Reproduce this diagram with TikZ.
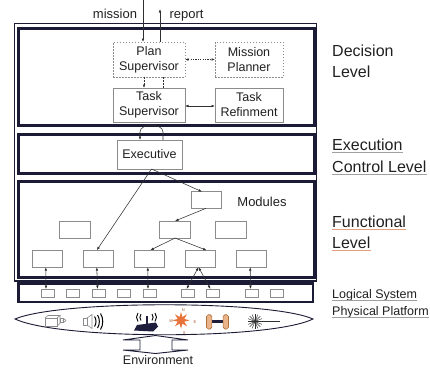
\documentclass[tikz,border=0pt]{standalone}
\usepackage{fontspec}
\setmainfont{Liberation Sans}
\usetikzlibrary{arrows.meta,shapes.geometric,calc}
\definecolor{framecol}{HTML}{1B1B35}
\definecolor{boxgray}{HTML}{8C8C8C}
\definecolor{linecol}{HTML}{303030}
\definecolor{txtcol}{HTML}{202020}
\definecolor{compcol}{HTML}{E8733A}
\definecolor{wheelcol}{HTML}{E9B48A}
\definecolor{wheelline}{HTML}{B0703A}
\definecolor{routercol}{HTML}{1E1E3C}
\definecolor{ulgray}{HTML}{A0A0A0}
\definecolor{ulorange}{HTML}{E6A080}
\begin{document}
\begin{tikzpicture}[x=1pt,y=-1pt,
  mbox/.style={draw=boxgray, line width=0.8pt, inner sep=0pt, outer sep=0pt, fill=white,
    text=txtcol, font=\fontsize{12.5}{15}\selectfont, align=center},
  dbox/.style={mbox, dash pattern=on 1.5pt off 1.5pt},
  fbox/.style={mbox, minimum width=31pt, minimum height=17pt},
  lbox/.style={draw=boxgray, line width=0.7pt, inner sep=0pt, outer sep=0pt, fill=white,
    minimum width=13pt, minimum height=8pt},
  arr/.style={-{Latex[length=3.5pt,width=2.6pt]}, line width=0.55pt, draw=linecol},
  darr/.style={{Latex[length=3.5pt,width=2.6pt]}-{Latex[length=3.5pt,width=2.6pt]}, line width=0.55pt, draw=linecol},
  frame/.style={draw=framecol},
  rlab/.style={anchor=base west, inner sep=0pt, text=txtcol, font=\fontsize{16}{19}\selectfont},
  slab/.style={anchor=base west, inner sep=0pt, text=txtcol, font=\fontsize{12.5}{15}\selectfont},
  tlab/.style={anchor=base, inner sep=0pt, text=txtcol, font=\fontsize{13}{15}\selectfont},
  icon/.style={draw=boxgray, line width=0.6pt},
  tiny/.style={inner sep=0pt, text=compcol!70!black, font=\fontsize{4}{4}\selectfont}
]
\useasboundingbox (0,0) rectangle (430,367);

% frames
\draw[frame, line width=1.7pt] (14.5,23.5) rectangle (316.5,281);
\draw[frame, line width=3pt] (18.5,28.5) rectangle (314,125);
\draw[frame, line width=3pt] (18.5,134) rectangle (314,173);
\draw[frame, line width=3pt] (18.5,181) rectangle (314,277);
\draw[frame, line width=2.5pt] (18.5,283.5) rectangle (313,302);

% decision level
\node[dbox, minimum width=72pt, minimum height=35pt] (ps) at (149,59.5) {Plan\\Supervisor};
\node[dbox, minimum width=68pt, minimum height=35pt] (mp) at (249,59.5) {Mission\\Planner};
\node[mbox, minimum width=72pt, minimum height=34pt] (ts) at (149,105) {Task\\Supervisor};
\node[mbox, minimum width=68pt, minimum height=34pt] (tr) at (249,105) {Task\\Refinment};

\coordinate (mtop) at (143,0);
\coordinate (rtop) at (160,9);
\draw[arr] (mtop) -- (mtop |- ps.north);
\draw[arr] (rtop |- ps.north) -- (rtop);
\node[tlab] (mission) at (115,18) {mission};
\node[tlab] (report) at (186.5,18) {report};

\draw[darr, dash pattern=on 1.2pt off 1.2pt] (ps.east) -- (mp.west);
\draw[arr, dash pattern=on 1.5pt off 1.5pt] ([xshift=-5pt]ps.south) -- ([xshift=-5pt]ts.north);
\draw[linecol, line width=0.55pt, dash pattern=on 1.5pt off 1.5pt] ([xshift=14pt]ps.south) -- ([xshift=14pt]ts.north);
\draw[darr] ([yshift=-1pt]ts.east) -- ([yshift=-1pt]tr.west);

% execution level
\node[mbox, minimum width=65pt, minimum height=29pt] (exe) at (149.5,154.5) {Executive};
\draw[arr] ([xshift=13.5pt]exe.north) -- ([xshift=13.5pt,yshift=8pt]exe.north)
  .. controls ([xshift=13.5pt,yshift=17pt]exe.north) and ([xshift=-9.5pt,yshift=17pt]exe.north)
  .. ([xshift=-9.5pt,yshift=8pt]exe.north) -- ([xshift=-9.5pt]exe.north);

% functional level
\node[fbox, minimum height=16.6pt, minimum width=30pt] (m0) at (206,200) {};
\node[fbox] (r1a) at (74.7,229.5) {};
\node[fbox] (r1b) at (175,229.5) {};
\node[fbox] (r1c) at (230.5,229.5) {};
\node[fbox, minimum width=30pt] (r2a) at (47.3,258.7) {};
\node[fbox, minimum width=30pt] (r2b) at (98.3,258.7) {};
\node[fbox, minimum width=30pt] (r2c) at (149.3,258.7) {};
\node[fbox, minimum width=30pt] (r2d) at (200.5,258.7) {};
\node[fbox, minimum width=30pt] (r2e) at (251.7,258.7) {};
\node[tlab] (modules) at (262,206) {Modules};

\draw[arr] ([xshift=2pt]exe.south) -- ([xshift=-1.5pt]r2b.north);
\draw[arr] ([xshift=2pt]exe.south) -- ([xshift=-4pt]m0.north);
\draw[arr] (m0.south) -- (r1b.north);
\draw[arr] (r1b.south) -- ([xshift=1pt]r2c.north);
\draw[arr] (r1b.south) -- ([xshift=6pt]r2d.north);

% logical system
\node[lbox] (l1) at (47.5,293) {};
\node[lbox] (l2) at (72.5,293) {};
\node[lbox] (l3) at (99,293) {};
\node[lbox] (l4) at (124,293) {};
\node[lbox] (l5) at (149.5,293) {};
\node[lbox] (l6) at (188,293) {};
\node[lbox] (l7) at (213,293) {};
\node[lbox] (l8) at (252,293) {};
\node[lbox] (l9) at (276.5,293) {};

\draw[darr] ([xshift=-1.5pt]r2a.south) -- ([xshift=-1.5pt]l1.north);
\draw[darr] ([xshift=-1.5pt]r2b.south) -- ([xshift=-1.5pt]l3.north);
\draw[darr] ([xshift=-1.5pt]r2c.south) -- ([xshift=-1.5pt]l5.north);
\draw[darr] ([xshift=-1.5pt]r2e.south) -- ([xshift=-1.5pt]l8.north);
\draw[darr] ([xshift=-2pt]r2d.south) -- ([xshift=-1.5pt]l6.north);
\draw[darr] ([xshift=-2pt]r2d.south) -- ([xshift=-2.5pt]l7.north);

% physical platform
\draw[framecol, line width=0.9pt, fill=white] (15,319) .. controls (60,300) and (270,300) .. (313,319)
  .. controls (270,340) and (60,340) .. (15,319) -- cycle;

% camera
\draw[icon] (45,318) rectangle (57,326);
\draw[icon] (45,318) -- (48,315.5) -- (60,315.5) -- (57,318);
\draw[icon] (57,326) -- (60,323.5) -- (60,315.5);
\draw[icon] (60,318.5) rectangle (63,322.5);
\draw[icon] (64.5,320.5) circle (1.5pt);

% speaker
\draw[icon] (83,318) rectangle (87,325);
\draw[icon] (87,318) -- (92,314.5) -- (92,328.5) -- (87,325);
\draw[black, line width=1pt] (94.5,316.5) .. controls (96.5,319) and (96.5,324) .. (94.5,326.5);
\draw[black, line width=1pt] (97.5,315) .. controls (100,318.5) and (100,324.5) .. (97.5,328);
\draw[black, line width=1pt] (100.5,313.5) .. controls (103.5,318) and (103.5,325) .. (100.5,329.5);

% router
\fill[routercol] (134,330.5) -- (137,325) -- (156,322.5) -- (158,326.5) -- (153,331.5) -- cycle;
\draw[routercol, line width=1.3pt] (147,324) -- (147,316);
\draw[black, line width=0.9pt] (141,314) .. controls (139.5,316) and (139.5,318.5) .. (141,320.5);
\draw[black, line width=0.9pt] (138,313) .. controls (136,315.5) and (136,319) .. (138,321.5);
\draw[black, line width=0.9pt] (152,314) .. controls (153.5,316) and (153.5,318.5) .. (152,320.5);
\draw[black, line width=0.9pt] (155,313) .. controls (157,315.5) and (157,319) .. (155,321.5);

% compass
\node[star, star points=8, star point ratio=2.4, fill=compcol, minimum size=17pt, inner sep=0pt] (comp) at (181,320.3) {};
\node[tiny] (cn) at (183.3,310.5) {N};
\node[tiny] (cw) at (171.2,321) {W};
\node[tiny] (ce) at (195,322) {E};
\node[tiny] (cs) at (184.3,333) {S};

% wheels
\draw[line width=2.3pt, routercol] (211.7,321.5) -- (223.3,321.5);
\draw[wheelline, line width=0.6pt, fill=wheelcol, rounded corners=1.8pt] (206.5,314.7) rectangle (211.9,329);
\draw[wheelline, line width=0.6pt, fill=wheelcol, rounded corners=1.8pt] (223.1,314.7) rectangle (228.5,329);

% laser
\foreach \a in {0,22.5,...,337.5} \draw[linecol, line width=0.45pt] (255,321.5) -- ++(\a:7.5);
\draw[linecol, line width=0.5pt] (255,321.5) -- (280,321.5);

% environment double arrow
\draw[framecol, line width=0.9pt, fill=white] (155.5,335.5) -- (188,340) -- (172,340) -- (172,350)
  -- (188,350) -- (155.5,353.5) -- (123,350) -- (140,350) -- (140,340) -- (123,340) -- cycle;
\node[anchor=base, inner sep=0pt, text=txtcol, font=\fontsize{12.5}{15}\selectfont] (env) at (158,364) {Environment};

% right labels
\node[rlab] (dec1) at (332,56) {Decision};
\node[rlab] (dec2) at (332,77) {Level};
\node[rlab] (exe1) at (332,150) {Execution};
\node[rlab] (exe2) at (332,172) {Control Level};
\node[rlab] (fun1) at (332,227) {Functional};
\node[rlab] (fun2) at (332,248) {Level};
\node[slab] (logi) at (332,298.3) {Logical System};
\node[slab] (phys) at (332,315.3) {Physical Platform};

\draw[ulgray, line width=0.7pt] ([yshift=-2pt]exe1.base west) -- ([yshift=-2pt]exe1.base east);
\draw[ulgray, line width=0.7pt] ([yshift=-2pt]exe2.base west) -- ([yshift=-2pt]exe2.base east);
\draw[ulorange, line width=0.7pt] ([yshift=-2pt]fun1.base west) -- ([yshift=-2pt]fun1.base east);
\draw[ulorange, line width=0.7pt] ([yshift=-2pt]fun2.base west) -- ([yshift=-2pt]fun2.base east);
\draw[ulgray, line width=0.7pt] ([yshift=-2pt]logi.base west) -- ([yshift=-2pt]logi.base east);
\draw[ulgray, line width=0.7pt] ([yshift=-2pt]phys.base west) -- ([yshift=-2pt]phys.base east);
\end{tikzpicture}
\end{document}
